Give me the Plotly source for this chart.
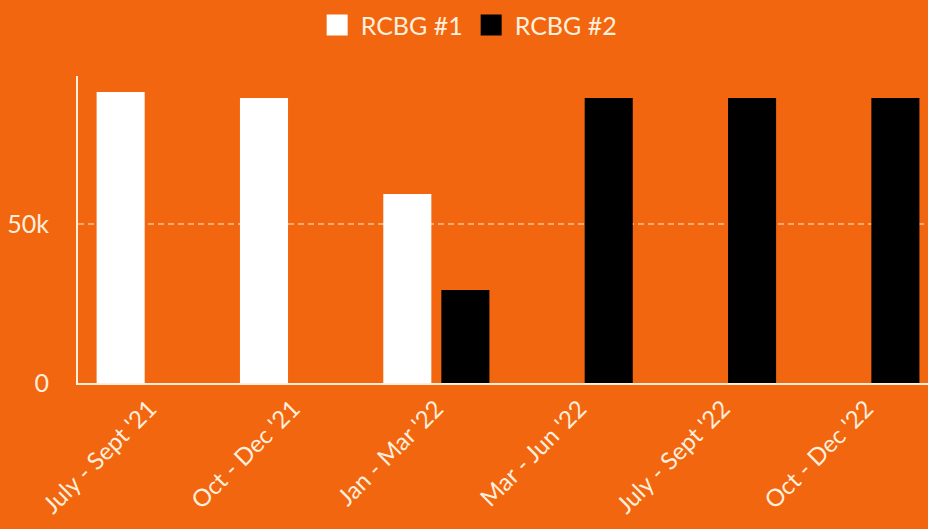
import plotly.graph_objects as go

# Quarterly totals for the two RCBG programmes
quarters = ["July - Sept '21", "Oct - Dec '21", "Jan - Mar '22",
            "Mar - Jun '22", "July - Sept '22", "Oct - Dec '22"]
rcbg1 = [91500, 89600, 59400, None, None, None]
rcbg2 = [None, None, 29200, 89600, 89600, 89600]

tick_vals = [0, 50000]
tick_text = ["0", "50k"]

BG = "#F2660F"
INK = "#FFEFDD"
FONT = "Lato, 'Open Sans', sans-serif"

fig = go.Figure()
fig.add_trace(go.Bar(name="RCBG #1", x=quarters, y=rcbg1,
                     marker=dict(color="#FFFFFF", line=dict(width=0)),
                     legendgroup="a", showlegend=False))
fig.add_trace(go.Bar(name="RCBG #2", x=quarters, y=rcbg2,
                     marker=dict(color="#000000", line=dict(width=0)),
                     legendgroup="b", showlegend=False))

# Larger square legend keys
for name, col, grp in [("RCBG #1", "#FFFFFF", "a"), ("RCBG #2", "#000000", "b")]:
    fig.add_trace(go.Scatter(name=name, x=[None], y=[None], mode="markers",
                             legendgroup=grp,
                             marker=dict(symbol="square", size=16, color=col,
                                         line=dict(color=col, width=5))))

fig.update_layout(
    width=928, height=529,
    paper_bgcolor=BG, plot_bgcolor=BG,
    margin=dict(l=78, r=0, t=76, b=146),
    barmode="group", bargap=0.19, bargroupgap=0.172,
    font=dict(family=FONT, color=INK, size=24),
    legend=dict(orientation="h", x=0.459, xanchor="center",
                y=1.24, yanchor="top", bgcolor="rgba(0,0,0,0)",
                font=dict(size=25, color=INK), itemsizing="trace",
                itemwidth=37, tracegroupgap=30),
    xaxis=dict(range=[-0.5, 5.43], showline=True, linecolor=INK, linewidth=2,
               showgrid=False, ticks="", tickangle=-45,
               tickfont=dict(size=24, color=INK), ticklabelstandoff=0),
    yaxis=dict(range=[0, 96500], showline=True, linecolor=INK, linewidth=2,
               tickvals=tick_vals, ticktext=tick_text,
               showgrid=True, gridcolor="rgba(255,225,200,0.55)",
               griddash="6px,4px", gridwidth=1.5, zeroline=False, ticks="",
               tickfont=dict(size=25, color=INK), ticklabelstandoff=22),
    showlegend=True,
)

fig.write_html("out.html")
